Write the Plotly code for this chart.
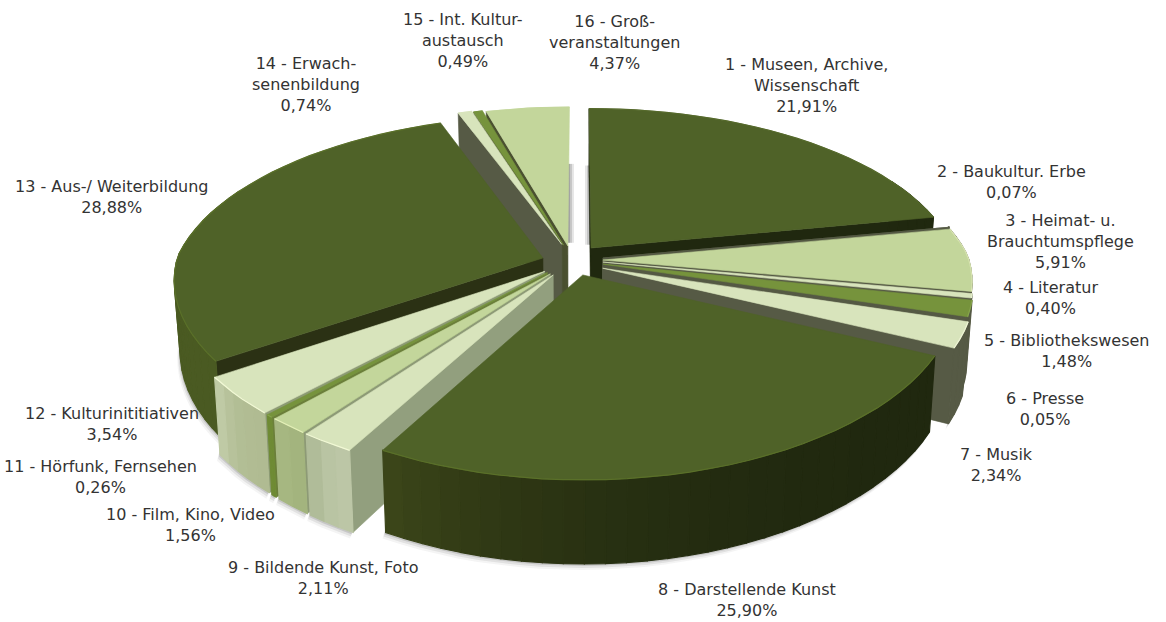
import math
import plotly.graph_objects as go

# ---- data ----
names = [
    "1 - Museen, Archive,<br>Wissenschaft", "2 - Baukultur. Erbe", "3 - Heimat- u.<br>Brauchtumspflege",
    "4 - Literatur", "5 - Bibliothekswesen", "6 - Presse", "7 - Musik", "8 - Darstellende Kunst",
    "9 - Bildende Kunst, Foto", "10 - Film, Kino, Video", "11 - Hörfunk, Fernsehen",
    "12 - Kulturinititiativen", "13 - Aus-/ Weiterbildung", "14 - Erwach-<br>senenbildung",
    "15 - Int. Kultur-<br>austausch", "16 - Groß-<br>veranstaltungen",
]
values = [21.91, 0.07, 5.91, 0.40, 1.48, 0.05, 2.34, 25.90, 2.11, 1.56, 0.26, 3.54, 28.88, 0.74, 0.49, 4.37]

# ---- styles / layout ----
top_colors = ["#4f6228", "#565a45", "#c3d69b", "#d8e4bc", "#76933c", "#565a45", "#d8e4bc", "#4f6228",
              "#d8e4bc", "#c3d69b", "#76933c", "#d8e4bc", "#4f6228", "#d8e4bc", "#76933c", "#c3d69b"]
rim_colors = ["#55692b", "#565a45", "#d8e4b0", "#e8f0d0", "#86a34c", "#565a45", "#eef5d5", "#5a7029",
              "#f2f9d6", "#e4f0b8", "#86a34c", "#f2f9d6", "#5a7029", "#d8e4bc", "#76933c", "#c3d69b"]
outer_start = ["#20280f", "#565a45", "#565a45", "#565a45", "#565a45", "#565a45", "#565a45", "#20280f",
               "#bcc6a6", "#a3b47e", "#6f8b35", "#b0bb92", "#4a5a22", "#565a45", "#565a45", "#565a45"]
outer_end = ["#20280f", "#565a45", "#565a45", "#565a45", "#565a45", "#565a45", "#565a45", "#3c4619",
             "#a7b58f", "#a9ba84", "#6f8b35", "#c4cfac", "#4f5f26", "#565a45", "#565a45", "#565a45"]
start_wall = ["#20280f", None, None, None, None, None, None, None,
              "#929f7e", "#8d9a76", "#6b7f3a", "#8c9a74", "#2b3114", "#565a45", "#4a5030", "#4a5030"]
end_wall = ["#20280f", "#565a45", "#565a45", "#565a45", "#565a45", "#565a45", "#565a45", None,
            None, None, None, None, None, None, None, None]
pull_u = [0.036, 0.068, 0.068, 0.068, 0.068, 0.068, 0.067, 0.013,
          -0.067, -0.075, -0.083, -0.090, -0.096, -0.045, -0.040, -0.028]
pull_v = [0.048, -0.012, -0.024, -0.036, -0.048, -0.060, -0.072, -0.111,
          -0.111, -0.105, -0.098, -0.090, -0.012, 0.070, 0.065, 0.060]
draw_order = [15, 14, 13, 0, 1, 2, 3, 4, 5, 6, 12, 11, 10, 9, 8, 7]

label_x = [806, 1011, 1060, 1050, 1067, 1045, 996, 747, 323, 190, 100, 112, 111, 306, 463, 614]
label_y = [85, 182, 241, 298, 351, 409, 465, 600, 578, 525, 477, 424, 197, 84, 40, 42]

CX, CY, RX, RY, DEPTH = 578, 256, 365, 168, 70


def project(u, v, h=0.0):
    kx = 0.185 if v > 0 else 0.12
    ky = 0.185 if v > 0 else 0.15
    x = RX * u / (1 + kx * v)
    y = -RY * v / (1 + ky * v)
    if h:
        x *= 0.985
        y += DEPTH / (1 + ky * v)
    return CX + x, CY + y


def lerp(c0, c1, t):
    a = [int(c0[i:i + 2], 16) for i in (1, 3, 5)]
    b = [int(c1[i:i + 2], 16) for i in (1, 3, 5)]
    return "rgb(%d,%d,%d)" % tuple(round(p + (q - p) * t) for p, q in zip(a, b))


fig = go.Figure()


def poly(pts, color, line=None, lw=0.6):
    fig.add_trace(go.Scatter(
        x=[p[0] for p in pts] + [pts[0][0]], y=[p[1] for p in pts] + [pts[0][1]],
        mode="lines", fill="toself", fillcolor=color,
        line=dict(color=line or color, width=lw), hoverinfo="skip", showlegend=False))


def stroke(pts, color, lw):
    fig.add_trace(go.Scatter(x=[p[0] for p in pts], y=[p[1] for p in pts], mode="lines",
                             line=dict(color=color, width=lw), hoverinfo="skip", showlegend=False))


total = sum(values)
edges = [0.0]
for val in values:
    edges.append(edges[-1] + val / total * 2 * math.pi)


def rim_angles(a0, a1):
    n = max(2, int((a1 - a0) / math.radians(3)) + 1)
    return [a0 + (a1 - a0) * j / n for j in range(n + 1)]


def rim_point(i, a, h=0.0):
    return project(math.sin(a) + pull_u[i], math.cos(a) + pull_v[i], h)


# soft ground shadow under the front rim
for off, alpha in ((6, 0.06), (4, 0.10), (2, 0.16)):
    for i in (6, 7, 8, 9, 10, 11, 12):
        ang = [a for a in rim_angles(edges[i], edges[i + 1]) if a < math.radians(285)]
        if len(ang) < 2:
            continue
        lo = [rim_point(i, a, 1) for a in ang]
        pts = [(p[0] - off * 0.5, p[1] + off) for p in lo] + [(p[0], p[1] - 6) for p in reversed(lo)]
        poly(pts, "rgba(60,60,60,%.2f)" % alpha, "rgba(0,0,0,0)", 0)

# soft shadows cast into the gap between the first and the last slice
for off, alpha in ((6, 0.14), (4, 0.20), (2, 0.28)):
    for i, a, sign in ((15, edges[16], 1), (0, edges[0], -1)):
        near = project(pull_u[i], pull_v[i] + 0.02)
        far = project(pull_u[i] + 0.55 * math.sin(a), pull_v[i] + 0.55 * math.cos(a))
        x0 = near[0]
        poly([(x0, near[1]), (x0, far[1]), (x0 + sign * off, far[1]), (x0 + sign * off, near[1])],
             "rgba(70,70,70,%.2f)" % alpha, "rgba(0,0,0,0)", 0)

for i in draw_order:
    a0, a1 = edges[i], edges[i + 1]
    apex_t, apex_b = project(pull_u[i], pull_v[i]), project(pull_u[i], pull_v[i], 1)
    ang = rim_angles(a0, a1)
    if start_wall[i]:
        poly([apex_t, rim_point(i, a0), rim_point(i, a0, 1), apex_b], start_wall[i])
    if end_wall[i]:
        poly([apex_t, rim_point(i, a1), rim_point(i, a1, 1), apex_b], end_wall[i])
    for j in range(len(ang) - 1):
        p, q = ang[j], ang[j + 1]
        if math.cos((p + q) / 2) > 0.45:
            continue
        t = ((j + 0.5) / (len(ang) - 1)) ** 3
        col = lerp(outer_start[i], outer_end[i], t)
        poly([rim_point(i, p), rim_point(i, q), rim_point(i, q, 1), rim_point(i, p, 1)], col, lw=1.2)
    top = [apex_t] + [rim_point(i, a) for a in ang]
    poly(top, top_colors[i])
    stroke([rim_point(i, a) for a in ang], rim_colors[i], 1.2)

annotations = []
for i, name in enumerate(names):
    pct = f"{values[i]:.2f}".replace(".", ",") + "%"
    annotations.append(dict(x=label_x[i], y=label_y[i], xref="x", yref="y", text=f"{name}<br>{pct}",
                            showarrow=False, align="center", xanchor="center", yanchor="middle",
                            font=dict(family="DejaVu Sans", size=16, color="#333333")))

fig.update_layout(
    width=1166, height=622, margin=dict(l=0, r=0, t=0, b=0),
    paper_bgcolor="white", plot_bgcolor="white", showlegend=False, annotations=annotations,
    xaxis=dict(range=[0, 1166], visible=False, fixedrange=True),
    yaxis=dict(range=[622, 0], visible=False, fixedrange=True),
)
fig.write_html("out.html", post_script="document.body.style.margin='0';",
               config={"displayModeBar": False})
